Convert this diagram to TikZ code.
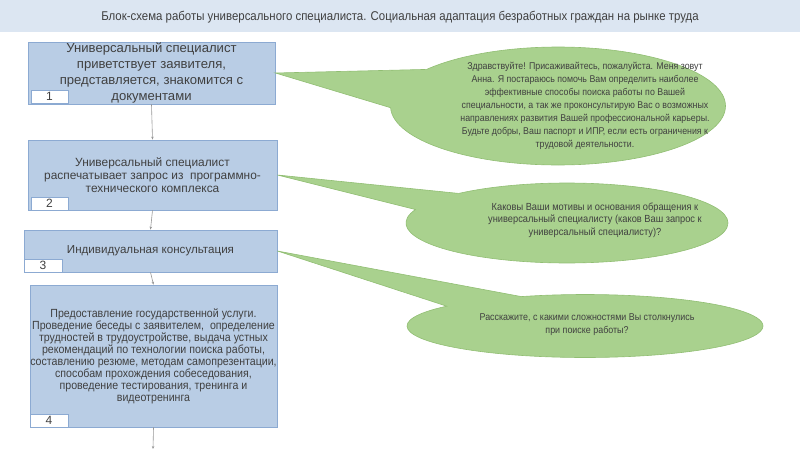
\documentclass[tikz,border=0pt]{standalone}
\usepackage{fontspec}
\setmainfont{Liberation Sans}
\newfontfamily\narrowsans[FakeStretch=0.9]{Liberation Sans}
\usepackage{tikz}
\usetikzlibrary{shapes.callouts,arrows.meta}
\definecolor{barblue}{RGB}{220,230,242}
\definecolor{boxblue}{RGB}{185,205,229}
\definecolor{boxline}{RGB}{140,170,210}
\definecolor{bubblegreen}{RGB}{169,209,142}
\definecolor{bubbleline}{RGB}{145,190,115}
\definecolor{txtgray}{RGB}{64,64,64}
\definecolor{linkgray}{RGB}{150,150,150}
\tikzset{
  stepbox/.style={draw=boxline, fill=boxblue, line width=0.8pt, text=txtgray, align=center, inner sep=0pt},
  numbox/.style={draw=boxline, fill=white, line width=0.8pt, minimum width=37pt, minimum height=13pt,
    inner sep=0pt, text=txtgray, font=\fontsize{12}{12}\selectfont, anchor=south west},
  bubble/.style={ellipse callout, draw=bubbleline, fill=bubblegreen, line width=0.6pt, inner sep=0pt},
  bubbletext/.style={text=txtgray, align=center, font=\narrowsans\fontsize{9.8}{13}\selectfont},
  link/.style={draw=linkgray, line width=0.6pt, -{Stealth[length=3pt,width=2.5pt]}}
}

\begin{document}
\begin{tikzpicture}[x=1pt,y=-1pt]
    \useasboundingbox (0,0) rectangle (800,450);
    \fill[barblue] (0,0) rectangle (800,32);
    \node[text=txtgray, font=\narrowsans\fontsize{12.7}{14}\selectfont] (title) at (400,17)
        {Блок-схема работы универсального специалиста. Социальная адаптация безработных граждан на рынке труда};

    % steps
    \node[stepbox, minimum width=247pt, minimum height=62pt, font=\fontsize{13.1}{16}\selectfont] (box1) at (151.5,73)
        {Универсальный специалист\\приветствует заявителя,\\представляется, знакомится с\\документами};
    \node[stepbox, minimum width=249pt, minimum height=70pt, font=\fontsize{11.9}{13.3}\selectfont] (box2) at (152.5,175)
        {Универсальный специалист\\распечатывает запрос из\ \ программно-\\технического комплекса};
    \node[stepbox, minimum width=253pt, minimum height=42pt, font=\fontsize{11.6}{13}\selectfont] (box3) at (150.5,251)
        {Индивидуальная консультация};
    \node[stepbox, minimum width=247pt, minimum height=142pt, font=\narrowsans\fontsize{11.8}{12}\selectfont] (box4) at (153.5,356)
        {Предоставление государственной услуги.\\Проведение беседы с заявителем,\ \ определение\\трудностей в трудоустройстве, выдача устных\\рекомендаций по технологии поиска работы,\\составлению резюме, методам самопрезентации,\\способам прохождения собеседования,\\проведение тестирования, тренинга и\\видеотренинга};

    \node[numbox] (num1) at ([xshift=3pt,yshift=1pt]box1.south west) {1};
    \node[numbox] (num2) at ([xshift=3pt]box2.south west) {2};
    \node[numbox, minimum width=38pt] (num3) at (box3.south west) {3};
    \node[numbox, minimum width=38pt] (num4) at (box4.south west) {4};

    \coordinate (next) at (153,449);
    \draw[link] (box1.south) -- (box2.north);
    \draw[link] (box2.south) -- (box3.north);
    \draw[link] (box3.south) -- (box4.north);
    \draw[link] (box4.south) -- (next);

    % speech bubbles
    \node[bubble, minimum width=335pt, minimum height=118pt, callout pointer arc=40,
        callout absolute pointer={(box1.east)}] (say1) at (558,106) {};
    \node[bubble, minimum width=322pt, minimum height=80pt, callout pointer arc=28,
        callout absolute pointer={(box2.east)}] (say2) at (567,223) {};
    \node[bubble, minimum width=356pt, minimum height=63pt, callout pointer arc=30,
        callout absolute pointer={(box3.east)}] (say3) at (585,326) {};

    \node[bubbletext] (text1) at (585,106)
        {Здравствуйте! Присаживайтесь, пожалуйста. Меня зовут\\Анна. Я постараюсь помочь Вам определить наиболее\\эффективные способы поиска работы по Вашей\\специальности, а так же проконсультирую Вас о возможных\\направлениях развития Вашей профессиональной карьеры.\\Будьте добры, Ваш паспорт и ИПР, если есть ограничения к\\трудовой деятельности.};
    \node[bubbletext, font=\narrowsans\fontsize{10.3}{12.5}\selectfont] (text2) at (595,220)
        {Каковы Ваши мотивы и основания обращения к\\универсальный специалисту (каков Ваш запрос к\\универсальный специалисту)?};
    \node[bubbletext, font=\narrowsans\fontsize{9.9}{13}\selectfont] (text3) at (587,325)
        {Расскажите, с какими сложностями Вы столкнулись\\при поиске работы?};
\end{tikzpicture}
\end{document}
